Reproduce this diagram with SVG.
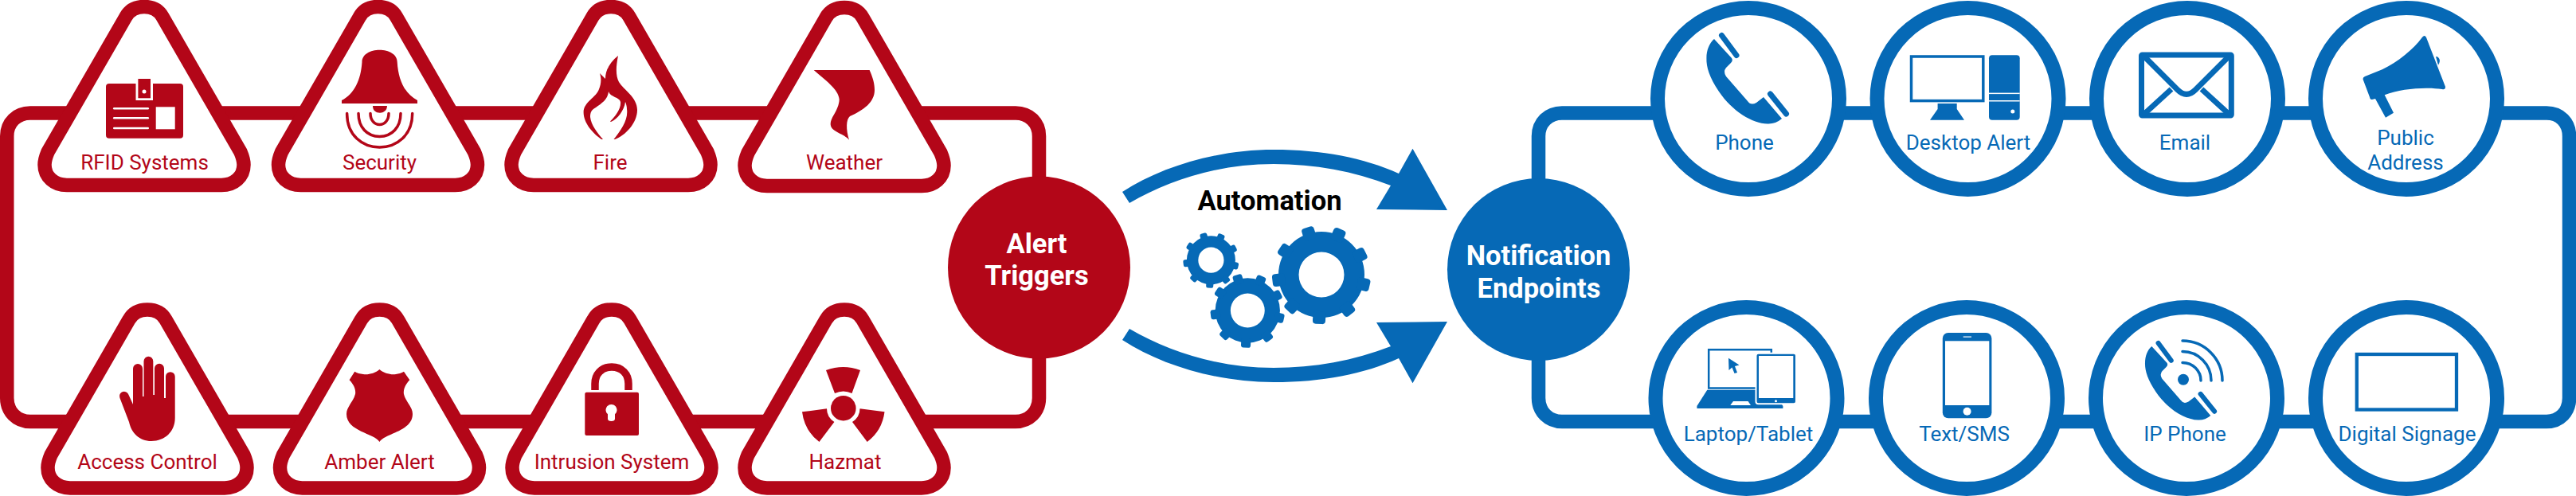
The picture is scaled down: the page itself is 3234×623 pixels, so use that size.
<svg xmlns="http://www.w3.org/2000/svg" xmlns:xlink="http://www.w3.org/1999/xlink" width="3234" height="623" viewBox="0 0 3234 623">
<style>
text{font-family:Roboto,"Liberation Sans",sans-serif;text-anchor:middle}
.rl{fill:#B30618;font-size:26px}
.bl{fill:#0669B6;font-size:26px}
.hd{fill:#fff;font-size:34.500px;font-weight:700}
.r{fill:#B30618}
.b{fill:#0669B6}
.w{fill:#fff}
.tri{fill:#fff;stroke:#B30618;stroke-width:17.5}
.cir{fill:#fff;stroke:#0669B6;stroke-width:18}
.line-r{fill:none;stroke:#B30618;stroke-width:17.5}
.line-b{fill:none;stroke:#0669B6;stroke-width:17.5}
.bs{fill:none;stroke:#0669B6}
.rs{fill:none;stroke:#B30618}
</style>
<defs>
<path id="tri" class="tri" d="M-23,21C-18,12 -9,8.5 0,8.5C9,8.5 18,12 23,21L121,191C124,198 125,203 125,207C125,222 113,232.5 97,232.5L-97,232.5C-113,232.5 -125,222 -125,207C-125,203 -124,198 -121,191Z"/>
<circle id="cir" class="cir" r="114"/>
<g id="gear" class="b">
<path fill-rule="evenodd" d="M-54,0a54,54 0 1 0 108,0a54,54 0 1 0 -108,0ZM-28.5,0a28.5,28.5 0 1 1 57,0a28.5,28.5 0 1 1 -57,0Z"/>
<rect x="-8" y="-62" width="16" height="16" rx="4" transform="rotate(23)"/>
<rect x="-8" y="-62" width="16" height="16" rx="4" transform="rotate(63)"/>
<rect x="-8" y="-62" width="16" height="16" rx="4" transform="rotate(103)"/>
<rect x="-8" y="-62" width="16" height="16" rx="4" transform="rotate(143)"/>
<rect x="-8" y="-62" width="16" height="16" rx="4" transform="rotate(183)"/>
<rect x="-8" y="-62" width="16" height="16" rx="4" transform="rotate(223)"/>
<rect x="-8" y="-62" width="16" height="16" rx="4" transform="rotate(263)"/>
<rect x="-8" y="-62" width="16" height="16" rx="4" transform="rotate(303)"/>
<rect x="-8" y="-62" width="16" height="16" rx="4" transform="rotate(343)"/>
</g>
<g id="handset">
<path class="b" d="M2152,49L2174,73Q2176,76 2173,79L2167,85Q2163,90 2167,96L2194,127Q2198,133 2205,129L2214,122L2237,149Q2229,156 2219,155.500C2200,155 2175,140 2158,115C2146,97 2142,84 2142.400,73C2142.400,63 2146,54 2152,49Z"/>
<path class="bs" stroke-width="7" stroke-linecap="round" d="M2161.500,44.500L2180,69.500M2222.500,118L2242.500,143"/>
</g>
<path id="arrow" class="b" d="M1409,241C1460,208 1530,188 1599,188C1660,188 1712,198 1756,218L1773.500,186.700L1817,264L1728,263L1746,233C1700,215 1650,206 1599,206C1530,206 1468,226 1418,255Z"/>
</defs>

<g id="connectors">
<path class="line-r" d="M1304.500,336V171C1304.500,154 1292,142 1275,142H38C21,142 8.750,154 8.750,171V500C8.750,517 21,529.500 38,529.500H1275C1292,529.500 1304.500,517 1304.500,500V336"/>
<path class="line-b" d="M1931.500,338V171C1931.500,154 1944,142 1961,142H3197C3214,142 3225.500,154 3225.500,171V500C3225.500,517 3214,529.500 3197,529.500H1961C1944,529.500 1931.500,517 1931.500,500V338"/>
<use id="arrow-top" xlink:href="#arrow" href="#arrow"/>
<use id="arrow-bottom" xlink:href="#arrow" href="#arrow" transform="matrix(1 0 0 -1 0 668)"/>
</g>

<g id="rfid-systems">
<use href="#tri" transform="translate(181,0)"/>
<rect class="r" x="133" y="105" width="97" height="68.700" rx="4"/>
<rect class="w" x="170.500" y="99" width="21.500" height="27"/>
<rect class="r" x="173.400" y="99" width="15.600" height="24.300"/>
<circle class="w" cx="181" cy="115" r="2.500"/>
<rect class="w" x="142" y="135" width="45" height="2.600" rx="1.300"/>
<rect class="w" x="142" y="147" width="45" height="2.600" rx="1.300"/>
<rect class="w" x="142" y="159.700" width="45" height="2.600" rx="1.300"/>
<rect class="w" x="195.700" y="134.300" width="24" height="28"/>
<text class="rl" x="181.500" y="213">RFID Systems</text>
</g>

<g id="security">
<use href="#tri" transform="translate(474.500,0)"/>
<path class="r" d="M454.500,78C454.500,68 465,62.700 476.500,62.700C488,62.700 498.700,68 498.700,78C500,100 508,118 524,126V130H429V126C445,118 453,100 454.500,78Z"/>
<path class="r" d="M468,133H486C486,139 481,141.700 477,141.700C472,141.700 468,139 468,133Z"/>
<path class="rs" stroke-width="3.500" stroke-linecap="round" d="M465,142.500C465,151 470,156.500 476.500,156.500C483,156.500 488,151 488,142.500M450,142.500C450,160 461,171.500 476.500,171.500C492,171.500 503,160 503,142.500M435.600,142.500C435.600,170 455,185 476.500,185C498,185 517.700,170 517.700,142.500"/>
<text class="rl" x="476.500" y="213">Security</text>
</g>

<g id="fire">
<use href="#tri" transform="translate(767,0)"/>
<path class="r" d="M776,70C773,85 773,95 777,103C783,113 800,122 800,138C800,155 785,170 772,175L770.500,175C780,163 789,150 787,137C787,134 786,130 785,128C784,138 775,150 767,153L766,152.500C773,146 780,136 779,128C778,122 766,122 764,115C763,125 755,130 748,135C742,138 741,142 741,147C742,157 750,167 757,175L755,175C745,168 732.600,155 732.600,141C732.600,128 749,122 752,112C755,105 755,98 753,92L760,99C760,88 766,78 776,70Z"/>
<text class="rl" x="766" y="213">Fire</text>
</g>

<g id="weather">
<use href="#tri" transform="translate(1060,1)"/>
<path class="r" d="M1021.700,88H1091.600C1096,98 1098,105 1098,113C1098,128 1085,138 1067,146C1062,150 1062,163 1066,175.700C1060,168 1045,166 1043,158C1041,148 1053,140 1053.700,125C1053,112 1035,100 1021.700,88Z"/>
<text class="rl" x="1060" y="213">Weather</text>
</g>

<g id="access-control">
<use href="#tri" transform="translate(185,380.400)"/>
<path class="r" d="M167,508V463a6,6 0 0 1 12,0V498H180.500V453.700a5.900,5.900 0 0 1 11.800,0V496H194V462.700a6,6 0 0 1 12,0V500H208V473a5.850,5.850 0 0 1 11.700,0V525C219.700,542 207,554 190,554C175,554 165,544 162,530L150.500,500C149,495 152,492 155.700,491.700C159,491.700 161,494 162,497Z"/>
<text class="rl" x="185" y="589">Access Control</text>
</g>

<g id="amber-alert">
<use href="#tri" transform="translate(476.500,380.400)"/>
<path class="r" d="M476.400,464C471,469 462,471 456,470C452,469.500 448,468.500 445.300,466.700L438.600,477.300C444,483 447,489 446,495C444,504 435,511 435,520C435,542 470,544 476.400,555C483,544 518,542 518,520C518,511 509,504 507,495C506,489 509,483 514.300,477.300L507,466.700C504,468.500 500,469.500 497,470C491,471 482,469 476.400,464Z"/>
<text class="rl" x="476.500" y="589">Amber Alert</text>
</g>

<g id="intrusion-system">
<use href="#tri" transform="translate(768,380.400)"/>
<rect class="r" x="734.300" y="492.700" width="67.700" height="54.300" rx="2"/>
<path class="rs" stroke-width="9.500" d="M747,490V482C747,470 755,461 768,461C781,461 789,470 789,482V490"/>
<path class="w" d="M767.500,508a7,7 0 0 1 4.500,12.300V526a4.500,3 0 0 1 -9,0V520.300a7,7 0 0 1 4.500,-12.300Z"/>
<text class="rl" x="768" y="589">Intrusion System</text>
</g>

<g id="hazmat">
<use href="#tri" transform="translate(1060,380.400)"/>
<circle class="r" cx="1058.800" cy="512.700" r="15.800"/>
<path class="r" d="M1037,465Q1058.800,457 1080,465L1069.500,494Q1058.800,489 1048,494Z"/>
<path class="r" d="M1007,517.300L1038,513.300Q1038,524 1047.400,530L1028.500,555Q1010,541 1007,517.300Z"/>
<path class="r" d="M1110.500,517.300L1079.500,513.300Q1079.500,524 1070,530L1088.700,555Q1107.500,541 1110.500,517.300Z"/>
<text class="rl" x="1061" y="589">Hazmat</text>
</g>

<g id="alert-triggers">
<circle class="r" cx="1304.500" cy="336" r="114.500"/>
<text class="hd" x="1301.500" y="317.500">Alert</text>
<text class="hd" x="1301.500" y="358">Triggers</text>
</g>

<g id="automation">
<text x="1594" y="264" style="font-size:34.500px;font-weight:700;fill:#000">Automation</text>
<use href="#gear" transform="translate(1659,345)"/>
<use href="#gear" transform="translate(1566.300,390) scale(.753)"/>
<use href="#gear" transform="translate(1520.400,326.700) scale(.565)"/>
</g>

<g id="notification-endpoints">
<circle class="b" cx="1931.500" cy="338.500" r="114.500"/>
<text class="hd" x="1931.500" y="333">Notification</text>
<text class="hd" x="1932" y="374">Endpoints</text>
</g>

<g id="phone">
<use href="#cir" transform="translate(2195,124)"/>
<use href="#handset"/>
<text class="bl" x="2190" y="188">Phone</text>
</g>

<g id="desktop-alert">
<use href="#cir" transform="translate(2470.500,124)"/>
<rect class="bs" stroke-width="3.500" x="2399.500" y="71" width="90.300" height="55.600"/>
<path class="b" d="M2432.600,130H2456.700V137L2466,150.700H2423L2432.600,137Z"/>
<rect class="b" x="2497" y="69.300" width="38.700" height="81.400" rx="4"/>
<rect class="w" x="2497" y="116.600" width="38.700" height="1.500"/>
<rect class="w" x="2497" y="126" width="38.700" height="1.500"/>
<circle class="w" cx="2526.800" cy="140" r="2.500"/>
<text class="bl" x="2471" y="188">Desktop Alert</text>
</g>

<g id="email">
<use href="#cir" transform="translate(2746,124)"/>
<rect class="bs" stroke-width="7" x="2688.500" y="69" width="112.800" height="76" rx="1"/>
<path class="bs" stroke-width="7" d="M2692,71L2734,113Q2745,124 2756,113L2798,71M2726,112L2691,144M2764,112L2799,144"/>
<text class="bl" x="2743" y="188">Email</text>
</g>

<g id="public-address">
<use href="#cir" transform="translate(3021,124)"/>
<path class="b" d="M3041,46.700Q3044,43 3046,47L3070,109Q3070,113 3066,112C3045,109 3015,111 2993.700,119.300L3005,141.700L2995,147.700L2982,124L2978,125Q2975.500,125.500 2975,122L2966.700,100Q2966,97 2969,96L2990.700,87.300C3010,78 3030,62 3041,46.700Z"/>
<path class="b" d="M3058,71C3062,71 3065,76 3061,81.700Z"/>
<text class="bl" x="3020" y="181.700">Public</text>
<text class="bl" x="3020" y="213">Address</text>
</g>

<g id="laptop-tablet">
<use href="#cir" transform="translate(2192.500,500)"/>
<rect class="bs" stroke-width="2.500" x="2145.200" y="439.200" width="78.600" height="48.300"/>
<path class="b" d="M2143.300,489.700H2225L2238.400,510V513H2130.400V510Z"/>
<path class="w" d="M2176,504H2194.600L2198,509H2172.300Z"/>
<path class="b" d="M2170,449.700L2183.500,458.500L2178,460L2181,468L2177.500,469L2174.500,461.500L2170.500,465Z"/>
<rect class="b" x="2204.500" y="443.700" width="50.500" height="63.600" rx="3" stroke="#fff" stroke-width="2"/>
<rect class="w" x="2208" y="447" width="43.300" height="53"/>
<circle class="w" cx="2229.500" cy="503.700" r="1.500"/>
<text class="bl" x="2195" y="554">Laptop/Tablet</text>
</g>

<g id="text-sms">
<use href="#cir" transform="translate(2469,500)"/>
<rect class="b" x="2438.800" y="418" width="61.600" height="107.300" rx="7"/>
<rect class="w" x="2442" y="428.300" width="55.300" height="80.700"/>
<rect class="w" x="2464.700" y="422.500" width="10.300" height="1.200"/>
<circle class="w" cx="2469.600" cy="516.700" r="5"/>
<text class="bl" x="2466" y="554">Text/SMS</text>
</g>

<g id="ip-phone">
<use href="#cir" transform="translate(2745,500)"/>
<use href="#handset" transform="translate(829.100,392.300) scale(.87)"/>
<circle class="b" cx="2741" cy="476.700" r="7"/>
<path class="bs" stroke-width="3.500" stroke-linecap="round" d="M2740,455.500A23,22.500 0 0 1 2763,478M2740,441.500A36,36.500 0 0 1 2776,478M2740,428A50,50 0 0 1 2790,478"/>
<text class="bl" x="2743" y="554">IP Phone</text>
</g>

<g id="digital-signage">
<use href="#cir" transform="translate(3021,500)"/>
<rect class="bs" stroke-width="4.300" x="2958.800" y="445" width="125.200" height="69.500"/>
<text class="bl" x="3022" y="554">Digital Signage</text>
</g>
</svg>
